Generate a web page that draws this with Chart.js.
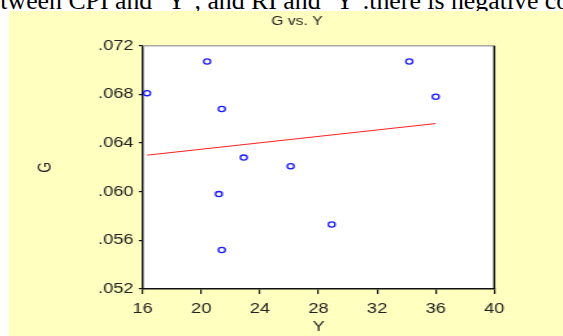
<!DOCTYPE html>
<html>
<head>
<meta charset="utf-8">
<script src="https://cdn.jsdelivr.net/npm/chart.js@4.4.1/dist/chart.umd.min.js"></script>
<style>
  html, body { margin: 0; padding: 0; background: #fff; overflow: hidden; }
  body { width: 563px; height: 336px; position: relative; }
  #caption {
    position: absolute; left: -24px; top: -12px; white-space: nowrap;
    font-family: "Liberation Serif", "Times New Roman", serif;
    font-size: 25.8px; line-height: 25px; color: #000;
  }
  #panel {
    position: absolute; left: 9px; top: 11px; width: 554px; height: 325px;
    background: #ffffc0; overflow: hidden;
  }
  #stretch { transform: scaleX(1.3); transform-origin: 0 0; width: 426px; height: 325px; }
</style>
</head>
<body>
<div id="caption">between CPI and ‘Y’, and RI and ‘Y’.there is negative correlation</div>
<div id="panel">
  <div id="stretch"><canvas id="chart" width="426" height="325"></canvas></div>
</div>
<script>
  // values
  const yValues = [16.3, 20.4, 21.4, 22.9, 26.1, 21.2, 21.4, 28.9, 34.2, 36.0];
  const gValues = [0.0681, 0.0707, 0.0668, 0.0628, 0.0621, 0.0598, 0.0552, 0.0573, 0.0707, 0.0678];
  const fitY = [16.3, 36.0];
  const fitG = [0.0630, 0.0656];
  const xTicks = [16, 20, 24, 28, 32, 36, 40];
  const gTicks = [0.052, 0.056, 0.060, 0.064, 0.068, 0.072];

  const tickFont = { family: "Liberation Sans, Arial, sans-serif", size: 14 };
  const ink = "#222";

  // white plot background, frame and the chart title
  const framePlugin = {
    id: "frame",
    beforeDraw(chart) {
      const { ctx, chartArea: a } = chart;
      ctx.save();
      ctx.fillStyle = "#ffffff";
      ctx.fillRect(a.left, a.top, a.right - a.left, a.bottom - a.top);
      ctx.restore();
    },
    afterDraw(chart) {
      const { ctx, chartArea: a } = chart;
      ctx.save();
      ctx.lineWidth = 1.5;
      ctx.strokeStyle = "#a8a8a0";
      ctx.beginPath();
      ctx.moveTo(a.left, a.top);
      ctx.lineTo(a.right, a.top);
      ctx.stroke();
      ctx.strokeStyle = "#111";
      ctx.beginPath();
      ctx.moveTo(a.right, a.top);
      ctx.lineTo(a.right, a.bottom);
      ctx.stroke();
      ctx.fillStyle = ink;
      ctx.font = "12px Liberation Sans, Arial, sans-serif";
      ctx.textAlign = "center";
      ctx.textBaseline = "middle";
      ctx.fillText("G vs. Y", 221.5, 10.5);
      ctx.restore();
    },
  };

  new Chart(document.getElementById("chart"), {
    type: "scatter",
    data: {
      datasets: [
        {
          label: "G",
          data: yValues.map((y, i) => ({ x: y, y: gValues[i] })),
          showLine: false,
          pointRadius: 2.6,
          pointBorderWidth: 1.3,
          pointBackgroundColor: "rgba(0,0,0,0)",
          pointBorderColor: "#1a1aff",
        },
        {
          label: "fit",
          data: fitY.map((y, i) => ({ x: y, y: fitG[i] })),
          showLine: true,
          pointRadius: 0,
          borderColor: "#ff2020",
          borderWidth: 1,
        },
      ],
    },
    options: {
      responsive: false,
      animation: false,
      layout: { padding: { top: 34.7, right: 52.7, left: 0, bottom: 0 } },
      plugins: { legend: { display: false }, tooltip: { enabled: false } },
      scales: {
        x: {
          type: "linear",
          min: 16,
          max: 40,
          afterBuildTicks: (scale) => { scale.ticks = xTicks.map((v) => ({ value: v })); },
          afterFit: (scale) => { scale.height = 47; },
          ticks: { font: tickFont, color: ink, padding: 7, maxRotation: 0 },
          grid: { drawOnChartArea: false, drawTicks: true, tickLength: 5, color: "#111", lineWidth: 1.2 },
          border: { display: true, color: "#111", width: 1.5 },
          title: { display: true, text: "Y", font: { family: "Liberation Sans, Arial, sans-serif", size: 14 }, color: ink, padding: { top: 0, bottom: 0 } },
        },
        y: {
          type: "linear",
          min: 0.052,
          max: 0.072,
          afterBuildTicks: (scale) => { scale.ticks = gTicks.map((v) => ({ value: v })); },
          afterFit: (scale) => { scale.width = 102.8; },
          ticks: {
            font: tickFont,
            color: ink,
            padding: 4,
            callback: (v) => v.toFixed(3).replace(/^0/, ""),
          },
          grid: { drawOnChartArea: false, drawTicks: true, tickLength: 3, color: "#111", lineWidth: 1.2 },
          border: { display: true, color: "#111", width: 1.5 },
          title: { display: true, text: "G", font: { family: "Liberation Sans, Arial, sans-serif", size: 14 }, color: ink, padding: { top: 19.3, bottom: 0 } },
        },
      },
    },
    plugins: [framePlugin],
  });
</script>
</body>
</html>
